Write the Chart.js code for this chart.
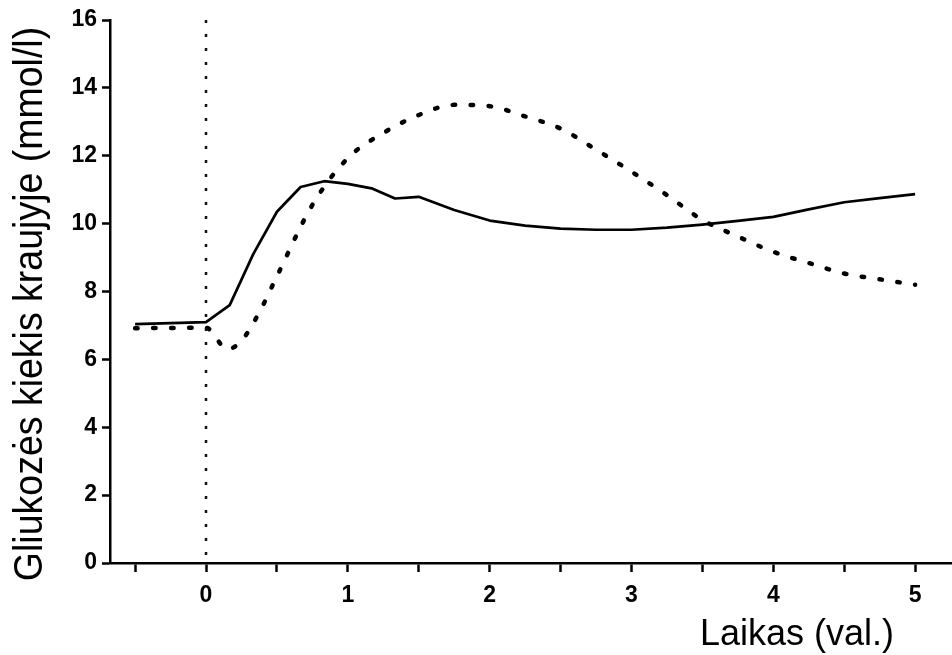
<!DOCTYPE html>
<html>
<head>
<meta charset="utf-8">
<script src="https://cdn.jsdelivr.net/npm/chart.js@4"></script>
<style>
  html, body { margin: 0; padding: 0; background: #fff; }
  #wrap { width: 952px; height: 655px; }
</style>
</head>
<body>
<div id="wrap"><canvas id="myChart" width="952" height="655"></canvas></div>
<script>
// laikas (val.) ir gliukozė (mmol/l)
const solidTime = [-0.5, 0, 0.167, 0.333, 0.5, 0.667, 0.833, 1.0, 1.167, 1.333, 1.5, 1.75,
  2.0, 2.25, 2.5, 2.75, 3.0, 3.25, 3.5, 3.75, 4.0, 4.25, 4.5, 4.75, 5.0];
const solidGlucose = [7.04, 7.1, 7.6, 9.1, 10.35, 11.08, 11.25, 11.17, 11.04, 10.74, 10.79, 10.4,
  10.09, 9.94, 9.85, 9.82, 9.82, 9.88, 9.97, 10.08, 10.2, 10.42, 10.63, 10.75, 10.87];

const dottedTime = [-0.5, 0, 0.15, 0.25, 0.375, 0.5, 0.75, 1.0, 1.25, 1.5, 1.75, 2.0,
  2.25, 2.5, 2.75, 3.0, 3.25, 3.5, 3.75, 4.0, 4.25, 4.5, 4.75, 5.0];
const dottedGlucose = [6.92, 6.93, 6.3, 6.55, 7.38, 8.45, 10.55, 11.93, 12.67, 13.2, 13.5, 13.46,
  13.16, 12.8, 12.18, 11.53, 10.84, 10.11, 9.62, 9.17, 8.84, 8.53, 8.36, 8.2];

// vertikali linija ties 0 (piešiama iš viršaus žemyn)
const markerTime = [0, 0];
const markerGlucose = [16, 0];

const xTickValues = [-0.5, 0, 0.5, 1, 1.5, 2, 2.5, 3, 3.5, 4, 4.5, 5];
const xTickLabels = ["", "0", "", "1", "", "2", "", "3", "", "4", "", "5"];
const yTickValues = [0, 2, 4, 6, 8, 10, 12, 14, 16];

const xTitle = "Laikas (val.)";
const yTitle = "Gliukozės kiekis kraujyje (mmol/l)";

function pairs(xs, ys) {
  return xs.map((x, i) => ({ x: x, y: ys[i] }));
}

// pavadinimai piešiami ranka, kad atitiktų vietą
const titlesPlugin = {
  id: "titles",
  afterDraw(chart) {
    const ctx = chart.ctx;
    ctx.save();
    ctx.fillStyle = "#000";
    ctx.font = "36px 'Liberation Sans', Arial, sans-serif";
    ctx.textAlign = "center";
    ctx.textBaseline = "alphabetic";
    ctx.fillText(xTitle, 797, 645);
    ctx.restore();

    ctx.save();
    ctx.fillStyle = "#000";
    ctx.font = "37.5px 'Liberation Sans', Arial, sans-serif";
    ctx.translate(42, 304);
    ctx.rotate(-Math.PI / 2);
    ctx.scale(1, 1.07);
    ctx.textAlign = "center";
    ctx.textBaseline = "alphabetic";
    ctx.fillText(yTitle, 0, 0);
    ctx.restore();
  }
};

const tickFont = { family: "'Liberation Sans', Arial, sans-serif", size: 23, weight: "bold" };

const ctx = document.getElementById("myChart");
new Chart(ctx, {
  type: "line",
  data: {
    datasets: [
      {
        data: pairs(markerTime, markerGlucose),
        borderColor: "#111",
        borderWidth: 2.5,
        borderDash: [3, 11],
        pointRadius: 0,
        tension: 0,
      },
      {
        data: pairs(dottedTime, dottedGlucose),
        borderColor: "#000",
        borderWidth: 4.5,
        borderDash: [2.5, 15.5],
        borderCapStyle: "round",
        pointRadius: 0,
        cubicInterpolationMode: "monotone",
      },
      {
        data: pairs(solidTime, solidGlucose),
        borderColor: "#000",
        borderWidth: 2.7,
        borderJoinStyle: "round",
        pointRadius: 0,
        tension: 0,
      },
    ],
  },
  options: {
    responsive: false,
    devicePixelRatio: 1,
    animation: false,
    layout: { padding: { top: 20, right: 0, left: 0, bottom: 0 } },
    plugins: {
      legend: { display: false },
      tooltip: { enabled: false },
    },
    scales: {
      x: {
        type: "linear",
        min: -0.677,
        max: 5.26,
        afterFit(scale) { scale.height = 92; },
        afterBuildTicks(scale) { scale.ticks = xTickValues.map(v => ({ value: v })); },
        ticks: {
          autoSkip: false,
          maxRotation: 0,
          padding: 10,
          color: "#000",
          font: tickFont,
          callback: (v, i) => xTickLabels[i],
        },
        grid: {
          drawOnChartArea: false,
          drawTicks: true,
          tickLength: 9,
          tickWidth: 2.5,
          tickColor: "#000",
        },
        border: { display: true, color: "#000", width: 2.5 },
      },
      y: {
        min: 0,
        max: 16,
        afterFit(scale) { scale.width = 110; },
        afterBuildTicks(scale) { scale.ticks = yTickValues.map(v => ({ value: v })); },
        ticks: {
          padding: 5,
          color: "#000",
          font: tickFont,
        },
        grid: {
          drawOnChartArea: false,
          drawTicks: true,
          tickLength: 8,
          tickWidth: 2.5,
          tickColor: "#000",
        },
        border: { display: true, color: "#000", width: 2.5 },
      },
    },
  },
  plugins: [titlesPlugin],
});
</script>
</body>
</html>
